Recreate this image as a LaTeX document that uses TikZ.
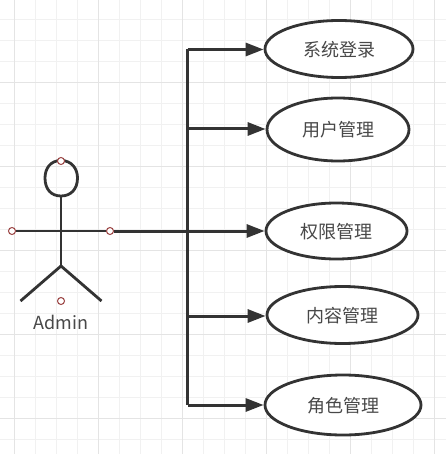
\documentclass[tikz,border=0pt]{standalone}
\usepackage{fontspec}
\setmainfont{Noto Sans CJK SC}
\usetikzlibrary{arrows.meta,shapes.geometric}
\definecolor{ink}{HTML}{333333}
\definecolor{soft}{HTML}{484848}
\definecolor{gridminor}{HTML}{F1F1F1}
\definecolor{gridmajor}{HTML}{E4E4E4}
\definecolor{portred}{HTML}{99403F}
\tikzset{
  usecase/.style={ellipse,draw=ink,line width=2.8pt,fill=white,inner sep=0pt,text=soft,text height=16pt,text depth=1.4pt,font=\fontsize{18}{20}\selectfont},
  link/.style={draw=ink,line width=3pt},
  arrowlink/.style={link,-{Triangle[length=18pt,width=13pt]}},
  stick/.style={draw=ink,line width=2.8pt},
  port/.style={circle,draw=portred,line width=1pt,fill=white,minimum size=7pt,inner sep=0pt},
  minorgrid/.style={draw=gridminor,line width=1pt},
  majorgrid/.style={draw=gridmajor,line width=1pt}
}
\begin{document}
\begin{tikzpicture}[x=1pt,y=-1pt]
\useasboundingbox (0,0) rectangle (446,454);
\fill[white] (0,0) rectangle (446,454);
% grid
\foreach \i in {-1,...,20} {\draw[minorgrid] ({14.7+21*\i},0) -- ({14.7+21*\i},454);}
\foreach \i in {0,...,21} {\draw[minorgrid] (0,{19.3+21*\i}) -- (446,{19.3+21*\i});}
\foreach \i in {14.7,98.7,182.7,266.7,350.7,434.7} {\draw[majorgrid] (\i,0) -- (\i,454);}
\foreach \i in {82.3,166.3,250.3,334.3,418.3} {\draw[majorgrid] (0,\i) -- (446,\i);}
% use cases
\node[usecase,minimum width=148pt,minimum height=57pt] (login) at (339,49) {系统登录};
\node[usecase,minimum width=142pt,minimum height=63pt] (user) at (338,129.5) {用户管理};
\node[usecase,minimum width=141pt,minimum height=56pt] (perm) at (336.5,231) {权限管理};
\node[usecase,minimum width=151pt,minimum height=57pt] (content) at (342.5,315) {内容管理};
\node[usecase,minimum width=156pt,minimum height=60pt] (role) at (343,405) {角色管理};
% actor
\coordinate (headtop) at (61,160.5);
\coordinate (neck) at (61,196);
\coordinate (hip) at (61,266);
\coordinate (footl) at (20.5,301);
\coordinate (footr) at (101.5,301);
\draw[stick] (headtop) .. controls (50,160.5) and (45,169) .. (45,178)
  .. controls (45,189) and (51,196) .. (neck)
  .. controls (71,196) and (77.5,189) .. (77.5,178)
  .. controls (77.5,169) and (72,160.5) .. (headtop) -- cycle;
\draw[stick] (neck) -- (hip);
\draw[stick] (footl) -- (hip) -- (footr);
\node[port] (arml) at (12,231) {};
\node[port] (armr) at (110,231) {};
\draw[stick] (arml) -- (armr);
\node[port] (ptop) at (61,161) {};
\node[port] (pbot) at (61,301) {};
\node[text=soft,font=\fontsize{18}{20}\selectfont,inner sep=0pt] (admin) at (61,322) {Admin};
% connectors
\coordinate (t1) at (187.5,49.5);
\coordinate (t2) at (187.5,129);
\coordinate (t3) at (187.5,231);
\coordinate (t4) at (187.5,316);
\coordinate (t5) at (187.5,405);
\draw[link] (armr) -- (t3);
\draw[link,line cap=butt] (t1) -- (t5);
\draw[arrowlink] (t1) -- (t1 -| login.west);
\draw[arrowlink] (t2) -- (t2 -| user.west);
\draw[arrowlink] (t3) -- (perm.west);
\draw[arrowlink] (t4) -- (t4 -| content.west);
\draw[arrowlink] (t5) -- (role.west);
\end{tikzpicture}
\end{document}
